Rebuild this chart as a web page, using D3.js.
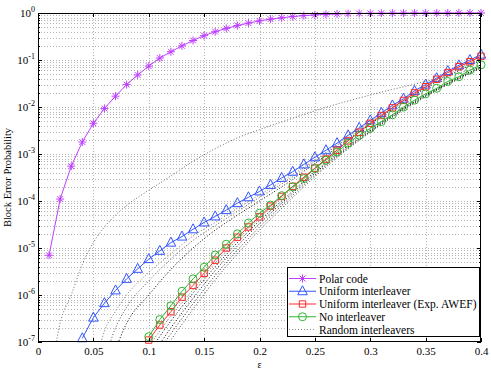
<!DOCTYPE html>
<html>
<head>
<meta charset="utf-8">
<script src="https://cdn.jsdelivr.net/npm/d3@7"></script>
<style>
  body { margin: 0; background: #fff; }
  svg { font-family: "Liberation Serif", "Times New Roman", serif; }
</style>
</head>
<body>
<div id="viz"></div>
<script>
//DATA (block error probability vs erasure probability)
const eps = [0.01, 0.02, 0.03, 0.04, 0.05, 0.06, 0.07, 0.08, 0.09, 0.10,
             0.11, 0.12, 0.13, 0.14, 0.15, 0.16, 0.17, 0.18, 0.19, 0.20,
             0.21, 0.22, 0.23, 0.24, 0.25, 0.26, 0.27, 0.28, 0.29, 0.30,
             0.31, 0.32, 0.33, 0.34, 0.35, 0.36, 0.37, 0.38, 0.39, 0.40];

//Polar code, eps 0.01 .. 0.40
const polarBER = [7e-6, 1.1e-4, 5.5e-4, 1.8e-3, 4.5e-3, 9.3e-3, 1.7e-2, 3e-2, 4.8e-2, 7.4e-2,
                  0.11, 0.15, 0.2, 0.26, 0.33, 0.40, 0.47, 0.54, 0.61, 0.68,
                  0.74, 0.79, 0.84, 0.88, 0.91, 0.935, 0.955, 0.97, 0.98, 0.985,
                  0.99, 0.993, 0.995, 0.997, 0.998, 0.999, 0.999, 1, 1, 1];

//Uniform interleaver, eps 0.04 .. 0.40
const uniformBER = [1.2e-7, 3.3e-7, 6.7e-7, 1.25e-6, 2.2e-6, 3.6e-6, 5.8e-6,
                    8.7e-6, 1.3e-5, 1.75e-5, 2.5e-5, 3.5e-5, 4.7e-5, 6.4e-5, 9e-5, 1.2e-4, 1.6e-4,
                    2.2e-4, 3.1e-4, 4.2e-4, 6e-4, 8.5e-4, 1.2e-3, 1.7e-3, 2.5e-3, 3.6e-3, 5.2e-3,
                    7.5e-3, 1.08e-2, 1.5e-2, 2.2e-2, 3e-2, 4.1e-2, 5.8e-2, 7.7e-2, 0.1, 0.13];

//Uniform interleaver (Exp. AWEF), eps 0.10 .. 0.40
const awefBER = [1.1e-7,
                 2.3e-7, 4.4e-7, 9e-7, 1.6e-6, 2.9e-6, 5.5e-6, 1e-5, 1.7e-5, 2.8e-5, 4.6e-5,
                 7.8e-5, 1.25e-4, 2.05e-4, 3.2e-4, 5e-4, 7.8e-4, 1.2e-3, 1.9e-3, 2.9e-3, 4.5e-3,
                 6.6e-3, 9.6e-3, 1.38e-2, 2e-2, 2.7e-2, 3.9e-2, 5.4e-2, 7.2e-2, 9.2e-2, 0.12];

//No interleaver, eps 0.10 .. 0.40
const noIntBER = [1.3e-7,
                  3e-7, 5.9e-7, 1.2e-6, 2.2e-6, 3.9e-6, 7.1e-6, 1.2e-5, 2e-5, 3.4e-5, 5.5e-5,
                  8.2e-5, 1.3e-4, 2e-4, 3e-4, 4.9e-4, 7.4e-4, 1.1e-3, 1.7e-3, 2.5e-3, 3.5e-3,
                  4.9e-3, 6.8e-3, 1e-2, 1.4e-2, 1.9e-2, 2.5e-2, 3.5e-2, 4.4e-2, 6.1e-2, 7.9e-2];

//Random interleavers (dotted), on a coarser eps grid; null = not drawn
const randEps = [0.01, 0.02, 0.03, 0.04, 0.05, 0.06, 0.07, 0.08, 0.10, 0.12,
                 0.14, 0.16, 0.18, 0.20, 0.22, 0.25, 0.30, 0.35, 0.40];
const randOutlier = [1e-8, 2.5e-7, 1e-6, 4.5e-6, 1.3e-5, 2.8e-5, 5e-5, 8e-5, 1.7e-4, 3.4e-4,
                     7e-4, 1.3e-3, 2.2e-3, 3.3e-3, 4.8e-3, 8.3e-3, 1.8e-2, 3.5e-2, 7e-2];
const randMid1 = [null, null, null, null, 2e-8, 1.7e-7, 4.5e-7, 1e-6, 3e-6, 7.5e-6,
                  1.8e-5, 3.5e-5, 7e-5, 1.35e-4, 2.6e-4, 7.5e-4, 5e-3, 2.9e-2, 0.12];
const randMid2 = [null, null, null, null, null, 4e-8, 2e-7, 5.5e-7, 2e-6, 5.8e-6,
                  1.45e-5, 3e-5, 6e-5, 1.2e-4, 2.3e-4, 7e-4, 4.7e-3, 2.7e-2, 0.11];
const randMid3 = [null, null, null, null, null, null, 7e-8, 2.5e-7, 1e-6, 3.5e-6,
                  1e-5, 2.4e-5, 5e-5, 1e-4, 2e-4, 6.3e-4, 4.3e-3, 2.5e-2, 0.1];
const randNear1 = [null, null, null, null, null, null, null, null, 6e-8, 2.8e-7,
                   1.1e-6, 4e-6, 1.3e-5, 3.8e-5, 1e-4, 4.2e-4, 3.3e-3, 1.8e-2, 7.2e-2];
const randNear2 = [null, null, null, null, null, null, null, null, 4e-8, 2e-7,
                   8.5e-7, 3.3e-6, 1.1e-5, 3.3e-5, 9e-5, 3.9e-4, 3.1e-3, 1.75e-2, 7e-2];
const randNear3 = [null, null, null, null, null, null, null, null, 3e-8, 1.5e-7,
                   6.5e-7, 2.6e-6, 9e-6, 2.8e-5, 8e-5, 3.6e-4, 3e-3, 1.7e-2, 6.8e-2];
const randNear4 = [null, null, null, null, null, null, null, null, 2e-8, 1.1e-7,
                   5e-7, 2.1e-6, 7.5e-6, 2.4e-5, 7e-5, 3.3e-4, 2.9e-3, 1.65e-2, 6.7e-2];
const randNear5 = [null, null, null, null, null, null, null, null, 8e-8, 3.6e-7,
                   1.3e-6, 4.8e-6, 1.5e-5, 4.3e-5, 1.15e-4, 5e-4, 4.5e-3, 2.6e-2, 0.1];

//tick labels
const xTicks = [0, 0.05, 0.1, 0.15, 0.2, 0.25, 0.3, 0.35, 0.4];
const xTickLabels = ["0", "0.05", "0.1", "0.15", "0.2", "0.25", "0.3", "0.35", "0.4"];
const yDecades = [1e-7, 1e-6, 1e-5, 1e-4, 1e-3, 1e-2, 1e-1, 1];
const yExponents = ["-7", "-6", "-5", "-4", "-3", "-2", "-1", "0"];

const legendLabels = ["Polar code", "Uniform interleaver", "Uniform interleaver (Exp. AWEF)",
                      "No interleaver", "Random interleavers"];

//COLOURS
const cPolar = "#bf3fff";
const cUniform = "#3355ff";
const cAwef = "#ff2a2a";
const cNoInt = "#2fb52f";

//CANVAS SETUP
const width = 491, height = 370;
const svg = d3.select("#viz")
  .append("svg")
  .attr("width", width)
  .attr("height", height);

const plotL = 38, plotR = 481, plotT = 13, plotB = 342;
const x = d3.scaleLinear().domain([0, 0.4]).range([plotL, plotR]);
const y = d3.scaleLog().domain([1e-7, 1]).range([plotB, plotT]);

//clip for curves
svg.append("clipPath").attr("id", "plotClip")
  .append("rect")
  .attr("x", plotL).attr("y", plotT)
  .attr("width", plotR - plotL).attr("height", plotB - plotT);

//GRID (dotted, like matlab)
const minorY = y.ticks().filter(d => !yDecades.some(t => Math.abs(t - d) / t < 1e-6));
const grid = svg.append("g").attr("stroke", "#b4b4b4").attr("stroke-width", 1)
  .attr("stroke-dasharray", "1,2").attr("shape-rendering", "crispEdges");
grid.selectAll("line.hx")
  .data(yDecades.slice(1, -1).concat(minorY))
  .enter().append("line")
  .attr("x1", plotL).attr("x2", plotR)
  .attr("y1", d => Math.round(y(d)) + 0.5).attr("y2", d => Math.round(y(d)) + 0.5);
grid.selectAll("line.vx")
  .data(xTicks.slice(1, -1))
  .enter().append("line")
  .attr("y1", plotT).attr("y2", plotB)
  .attr("x1", d => Math.round(x(d)) + 0.5).attr("x2", d => Math.round(x(d)) + 0.5);

//RANDOM INTERLEAVERS (dotted curves)
const randLine = d3.line()
  .defined(d => d[1] != null)
  .x(d => x(d[0]))
  .y(d => y(d[1]))
  .curve(d3.curveMonotoneX);

const randCurves = [
  { vals: randOutlier, color: "#666" },
  { vals: randMid1, color: "#777" },
  { vals: randMid2, color: "#555" },
  { vals: randMid3, color: "#000" },
  { vals: randNear5, color: "#666" },
  { vals: randNear1, color: "#000" },
  { vals: randNear2, color: "#000" },
  { vals: randNear3, color: "#222" },
  { vals: randNear4, color: "#444" }
];
svg.append("g").attr("clip-path", "url(#plotClip)")
  .selectAll("path")
  .data(randCurves)
  .enter().append("path")
  .attr("d", c => randLine(randEps.map((e, i) => [e, c.vals[i]])))
  .attr("fill", "none")
  .attr("stroke", c => c.color)
  .attr("stroke-width", 1)
  .attr("stroke-dasharray", "1,2");

//MARKER SHAPES
function markerPath(kind, cx, cy) {
  if (kind === "star") {
    const r = 4, d = 2.9;
    return `M${cx - r},${cy}H${cx + r}M${cx},${cy - r}V${cy + r}` +
           `M${cx - d},${cy - d}L${cx + d},${cy + d}M${cx - d},${cy + d}L${cx + d},${cy - d}`;
  }
  if (kind === "tri") {
    return `M${cx},${cy - 5.5}L${cx + 4.8},${cy + 3.5}L${cx - 4.8},${cy + 3.5}Z`;
  }
  if (kind === "square") {
    return `M${cx - 3.2},${cy - 3.2}h6.4v6.4h-6.4Z`;
  }
  //circle
  const r = 4;
  return `M${cx - r},${cy}a${r},${r} 0 1,0 ${2 * r},0a${r},${r} 0 1,0 ${-2 * r},0`;
}

//MAIN SERIES (solid line + markers)
const series = [
  { xs: eps, ys: polarBER, color: cPolar, marker: "star" },
  { xs: eps.slice(3), ys: uniformBER, color: cUniform, marker: "tri" },
  { xs: eps.slice(9), ys: awefBER, color: cAwef, marker: "square" },
  { xs: eps.slice(9), ys: noIntBER, color: cNoInt, marker: "circle" }
];
const solidLine = d3.line().x(d => x(d[0])).y(d => y(d[1]));

series.forEach(s => {
  const pts = s.xs.map((e, i) => [e, s.ys[i]]);
  const g = svg.append("g");
  g.append("path")
    .attr("d", solidLine(pts))
    .attr("fill", "none")
    .attr("stroke", s.color)
    .attr("stroke-width", 1);
  g.selectAll("path.mk")
    .data(pts)
    .enter().append("path")
    .attr("class", "mk")
    .attr("d", d => markerPath(s.marker, x(d[0]), y(d[1])))
    .attr("fill", "none")
    .attr("stroke", s.color)
    .attr("stroke-width", 1);
});

//AXES (box with inward ticks)
const axisStyle = g => {
  g.selectAll(".domain").remove();
  g.selectAll("line").attr("stroke", "#000").attr("shape-rendering", "crispEdges");
  g.selectAll("text").attr("fill", "#000").style("font-size", "11px")
    .style("font-family", '"Liberation Serif", serif');
};
svg.append("g").attr("transform", `translate(0,${plotB})`)
  .call(d3.axisBottom(x).tickValues(xTicks).tickSizeInner(-4).tickSizeOuter(0)
    .tickPadding(5).tickFormat((d, i) => xTickLabels[i]))
  .call(axisStyle);
svg.append("g").attr("transform", `translate(0,${plotT})`)
  .call(d3.axisTop(x).tickValues(xTicks).tickSizeInner(-4).tickSizeOuter(0).tickFormat(""))
  .call(axisStyle);
svg.append("g").attr("transform", `translate(${plotL},0)`)
  .call(d3.axisLeft(y).tickValues(yDecades).tickSizeInner(-4).tickSizeOuter(0).tickFormat(""))
  .call(axisStyle);
svg.append("g").attr("transform", `translate(${plotL},0)`)
  .call(d3.axisLeft(y).tickValues(minorY).tickSizeInner(-2).tickSizeOuter(0).tickFormat(""))
  .call(axisStyle);
svg.append("g").attr("transform", `translate(${plotR},0)`)
  .call(d3.axisRight(y).tickValues(yDecades).tickSizeInner(-4).tickSizeOuter(0).tickFormat(""))
  .call(axisStyle);
svg.append("g").attr("transform", `translate(${plotR},0)`)
  .call(d3.axisRight(y).tickValues(minorY).tickSizeInner(-2).tickSizeOuter(0).tickFormat(""))
  .call(axisStyle);

svg.append("rect")
  .attr("x", plotL + 0.5).attr("y", plotT + 0.5)
  .attr("width", plotR - plotL - 1).attr("height", plotB - plotT - 1)
  .attr("fill", "none").attr("stroke", "#000").attr("stroke-width", 1);

//y tick labels 10^k
const yLab = svg.append("g").selectAll("text")
  .data(yDecades)
  .enter().append("text")
  .attr("x", 35)
  .attr("y", d => y(d) + 4)
  .attr("text-anchor", "end")
  .style("font-size", "11px");
yLab.append("tspan").text("10");
yLab.append("tspan")
  .attr("dy", -5)
  .style("font-size", "8px")
  .text((d, i) => yExponents[i]);

//axis titles
svg.append("text")
  .attr("x", (plotL + plotR) / 2)
  .attr("y", 368)
  .attr("text-anchor", "middle")
  .style("font-size", "10px")
  .text("ε");

svg.append("text")
  .attr("transform", `translate(11,${(plotT + plotB) / 2}) rotate(-90)`)
  .attr("text-anchor", "middle")
  .style("font-size", "10.5px")
  .text("Block Error Probability");

//LEGEND
const lg = svg.append("g");
lg.append("rect")
  .attr("x", 287.5).attr("y", 267.5)
  .attr("width", 192).attr("height", 69)
  .attr("fill", "#fff").attr("stroke", "#000").attr("stroke-width", 1);

const legendItems = [
  { color: cPolar, marker: "star", dotted: false },
  { color: cUniform, marker: "tri", dotted: false },
  { color: cAwef, marker: "square", dotted: false },
  { color: cNoInt, marker: "circle", dotted: false },
  { color: "#888", marker: null, dotted: true }
];
const rowY = d3.scaleLinear().domain([0, 4]).range([278.5, 329.5]);
legendItems.forEach((it, i) => {
  const ry = rowY(i);
  lg.append("line")
    .attr("x1", 289).attr("x2", 316)
    .attr("y1", ry).attr("y2", ry)
    .attr("stroke", it.color)
    .attr("stroke-width", 1)
    .attr("stroke-dasharray", it.dotted ? "1,2" : null);
  if (it.marker) {
    lg.append("path")
      .attr("d", markerPath(it.marker, 302.5, ry))
      .attr("fill", "none")
      .attr("stroke", it.color)
      .attr("stroke-width", 1);
  }
  lg.append("text")
    .attr("x", 319)
    .attr("y", ry + 4)
    .style("font-size", "11.5px")
    .text(legendLabels[i]);
});
</script>
</body>
</html>
